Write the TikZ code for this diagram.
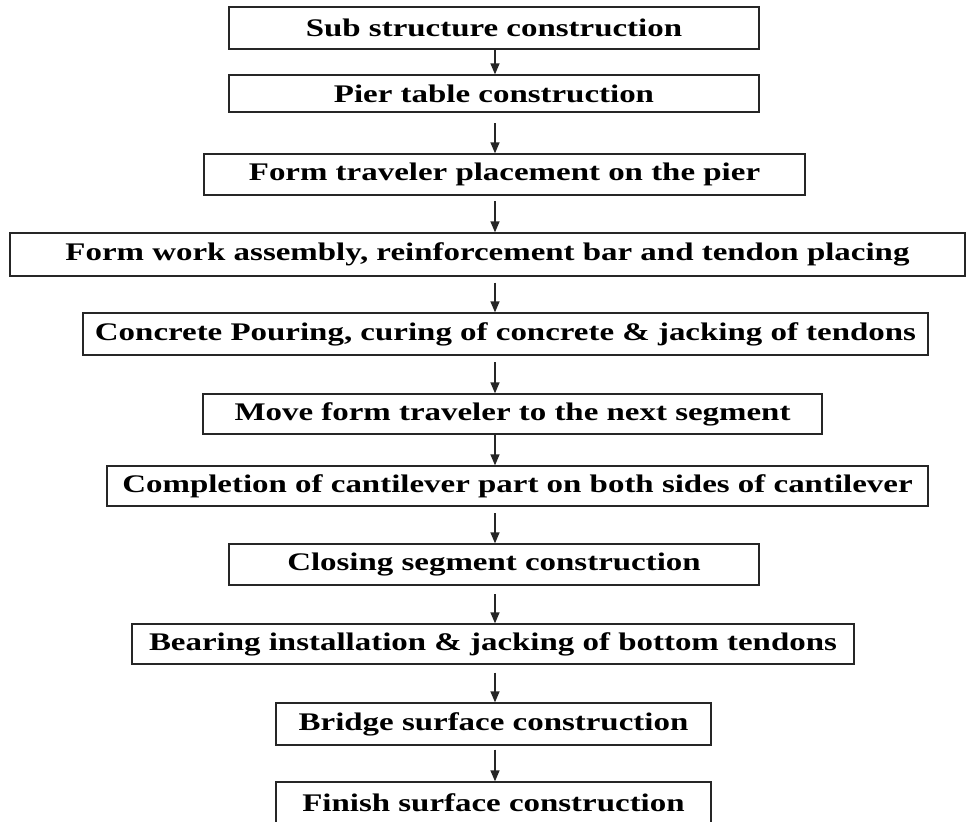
\documentclass[tikz,border=0pt]{standalone}
\usepackage{fontspec}
\newfontfamily\boxfont{Liberation Serif}[FakeStretch=1.3]
\usetikzlibrary{arrows.meta}
\tikzset{
  stepbox/.style={draw=black!85, line width=1pt, fill=white, inner sep=0pt,
    font=\boxfont\bfseries\fontsize{19}{22}\selectfont, text=black},
  flowarrow/.style={draw=black!85, line width=1pt,
    -{Triangle[length=8.25pt,width=6.75pt]}}
}
\begin{document}
\begin{tikzpicture}[x=0.75pt,y=-0.75pt]
\useasboundingbox (0,0) rectangle (967,821);
\node[stepbox, minimum width=397.5pt, minimum height=31.5pt] (b1) at (494,28) {Sub structure construction};
\node[stepbox, minimum width=397.5pt, minimum height=27.75pt] (b2) at (494,93.5) {Pier table construction};
\node[stepbox, minimum width=450.75pt, minimum height=30.75pt] (b3) at (504.5,174.5) {Form traveler placement on the pier};
\node[stepbox, minimum width=716.25pt, minimum height=32.25pt] (b4) at (487.5,254.5) {Form work assembly, reinforcement bar and tendon placing};
\node[stepbox, minimum width=633.75pt, minimum height=31.5pt] (b5) at (505.5,334) {Concrete Pouring, curing of concrete \& jacking of tendons};
\node[stepbox, minimum width=464.25pt, minimum height=30pt] (b6) at (512.5,414) {Move form traveler to the next segment};
\node[stepbox, minimum width=615.75pt, minimum height=30pt] (b7) at (517.5,486) {Completion of cantilever part on both sides of cantilever};
\node[stepbox, minimum width=397.5pt, minimum height=30.75pt] (b8) at (494,564.5) {Closing segment construction};
\node[stepbox, minimum width=541.5pt, minimum height=30pt] (b9) at (493,644) {Bearing installation \& jacking of bottom tendons};
\node[stepbox, minimum width=326.25pt, minimum height=31.5pt] (b10) at (493.5,724) {Bridge surface construction};
\node[stepbox, minimum width=326.25pt, minimum height=31.5pt] (b11) at (493.5,803) {Finish surface construction};
\coordinate (ax) at (495,0);
\draw[flowarrow] (b1.south -| ax) -- (b2.north -| ax);
\draw[flowarrow, shorten <=8pt] (b2.south -| ax) -- (b3.north -| ax);
\draw[flowarrow, shorten <=4pt] (b3.south -| ax) -- (b4.north -| ax);
\draw[flowarrow, shorten <=4.5pt] (b4.south -| ax) -- (b5.north -| ax);
\draw[flowarrow, shorten <=5pt] (b5.south -| ax) -- (b6.north -| ax);
\draw[flowarrow] (b6.south -| ax) -- (b7.north -| ax);
\draw[flowarrow, shorten <=5pt] (b7.south -| ax) -- (b8.north -| ax);
\draw[flowarrow, shorten <=6.5pt] (b8.south -| ax) -- (b9.north -| ax);
\draw[flowarrow, shorten <=6pt] (b9.south -| ax) -- (b10.north -| ax);
\draw[flowarrow, shorten <=3pt] (b10.south -| ax) -- (b11.north -| ax);
\end{tikzpicture}
\end{document}
